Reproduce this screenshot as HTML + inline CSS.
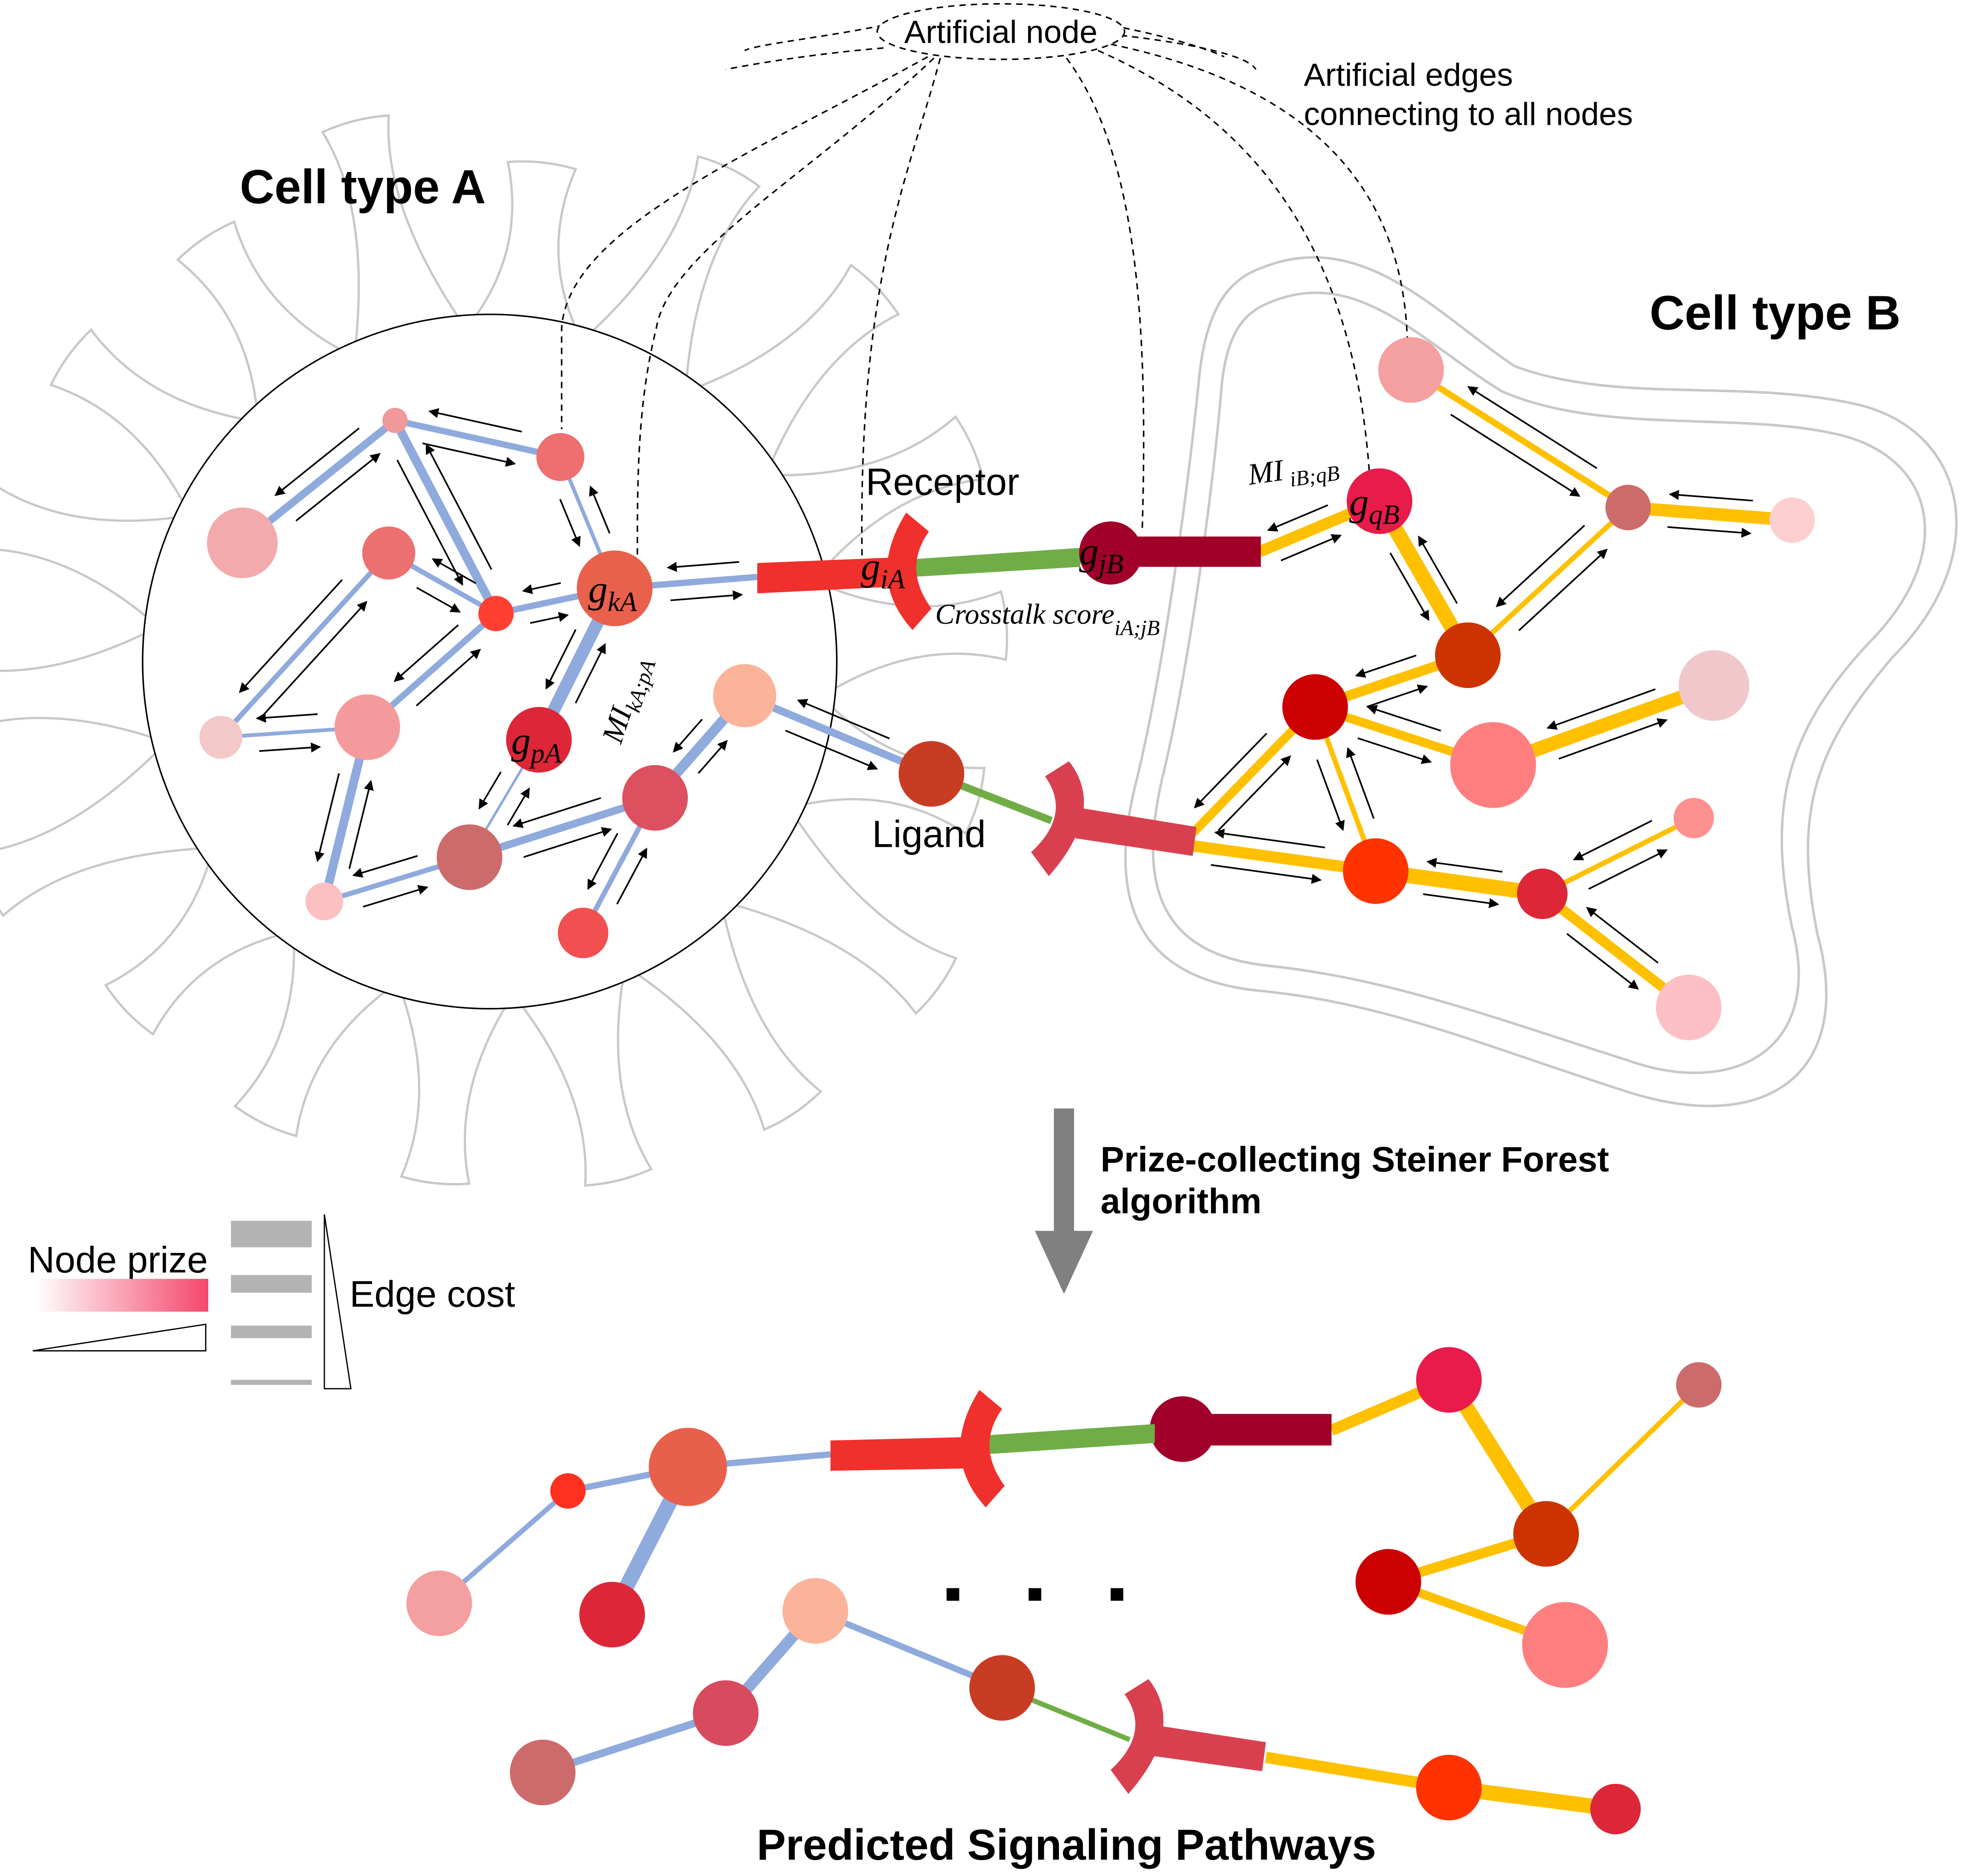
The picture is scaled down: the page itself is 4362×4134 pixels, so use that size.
<!DOCTYPE html>
<html><head><meta charset="utf-8">
<style>
html,body{margin:0;padding:0;background:#fff;}
svg{display:block;}
text{font-family:"Liberation Sans",sans-serif;}
text.it{font-family:"Liberation Serif",serif;font-style:italic;}
</style></head>
<body>
<svg id="s" xmlns="http://www.w3.org/2000/svg" width="4362" height="4134" viewBox="0 0 1568 1486">
<defs>
<marker id="ah" markerWidth="8" markerHeight="8" refX="7" refY="4" orient="auto" markerUnits="userSpaceOnUse">
<path d="M0,0 L8,4 L0,8 z" fill="#000"/></marker>
<linearGradient id="pg" x1="0" x2="1"><stop offset="0" stop-color="#fff"/><stop offset="1" stop-color="#f4476b"/></linearGradient>
</defs>
<g id="petals"></g>
<circle cx="388" cy="524" r="275" fill="#fff" stroke="#000" stroke-width="1.2"/>
<!-- Cell B outline -->
<path d="M1000,212 C1080,180 1140,250 1200,290 C1280,320 1380,300 1470,320 C1560,340 1580,440 1500,520 C1440,590 1420,640 1440,740 C1470,850 1400,900 1290,865 C1180,830 1100,795 1000,785 C890,775 880,700 900,620 C920,540 940,400 950,300 C955,250 970,222 1000,212 Z" fill="none" stroke="#c8c8c8" stroke-width="2"/>
<path d="M1005,240 C1075,210 1125,270 1190,310 C1270,345 1380,325 1460,345 C1535,365 1550,440 1480,510 C1415,580 1400,640 1420,735 C1445,830 1375,870 1290,840 C1180,805 1100,775 1005,765 C910,755 905,690 920,620 C940,540 960,400 968,305 C972,265 985,248 1005,240 Z" fill="none" stroke="#c8c8c8" stroke-width="2"/>
<g id="edges"></g>
<g id="arrows"></g>
<g id="dash" fill="none" stroke="#000" stroke-width="1.2" stroke-dasharray="5,4"></g>
<ellipse cx="793" cy="25" rx="98" ry="22" fill="#fff" stroke="#000" stroke-width="1.2" stroke-dasharray="5,4"/>
<text x="793" y="34" font-size="25.5" text-anchor="middle">Artificial node</text>
<text x="1033" y="68" font-size="25.5">Artificial edges</text>
<text x="1033" y="99" font-size="25.5">connecting to all nodes</text>
<text x="190" y="161" font-size="38" font-weight="bold">Cell type A</text>
<text x="1307" y="261" font-size="38.5" font-weight="bold">Cell type B</text>
<text x="686" y="392" font-size="30">Receptor</text>
<text x="691" y="671" font-size="30">Ligand</text>
<text x="741" y="494" font-size="23" class="it">Crosstalk score<tspan font-size="17" dy="9">iA;jB</tspan></text>
<text x="990" y="384" font-size="24" class="it" transform="rotate(-8 990 384)">MI<tspan font-size="17" dy="6"> iB;qB</tspan></text>
<text x="492" y="590" font-size="24" class="it" transform="rotate(-72 492 590)">MI<tspan font-size="17" dy="6">kA;pA</tspan></text>
<!-- receptors/ligands top -->
<polygon points="600,446 722,441 722,464 600,470" fill="#f0302c"/>
<polygon points="722,443 856,434 856,449 722,457" fill="#70ad47"/>
<rect x="900" y="425" width="99" height="24" fill="#a00028"/>
<path d="M718,406 Q685.5,457.5 723,499 L738,482 Q715,450.5 736,421 Z" fill="#f0302c"/>
<polygon points="856,640 948,655 945,678 852,664" fill="#d84050"/>
<path d="M847,603 Q877,641.5 831,694 L817,675 Q849.5,645 828,615 Z" fill="#d84050"/>
<g id="nodes"></g>
<g id="labels"></g>
<!-- bottom receptors -->
<polygon points="658,1141 780,1138 780,1163 658,1165" fill="#f0302c"/>
<polygon points="780,1137 915,1128 915,1143 780,1152" fill="#70ad47"/>
<rect x="957" y="1120" width="98" height="25" fill="#a00028"/>
<g transform="translate(58,695)"><path d="M718,406 Q685.5,457.5 723,499 L738,482 Q715,450.5 736,421 Z" fill="#f0302c"/></g>
<polygon points="918,1367 1003,1380 1000,1403 914,1391" fill="#d84050"/>
<g transform="translate(63,727)"><path d="M847,603 Q877,641.5 831,694 L817,675 Q849.5,645 828,615 Z" fill="#d84050"/></g>
<!-- Big arrow -->
<rect x="835" y="878" width="16" height="100" fill="#808080"/>
<path d="M820,975 L866,975 L843,1025 Z" fill="#808080"/>
<text x="872" y="928" font-size="28" font-weight="bold">Prize-collecting Steiner Forest</text>
<text x="872" y="961" font-size="28" font-weight="bold">algorithm</text>
<!-- legend -->
<text x="22" y="1008" font-size="29.5">Node prize</text>
<rect x="28" y="1013" width="137" height="26" fill="url(#pg)"/>
<path d="M26,1070 L163,1049 L163,1070 Z" fill="none" stroke="#000" stroke-width="1"/>
<rect x="183" y="967" width="64" height="21" fill="#b3b3b3"/>
<rect x="183" y="1010" width="64" height="14" fill="#b3b3b3"/>
<rect x="183" y="1050" width="64" height="10" fill="#b3b3b3"/>
<rect x="183" y="1093" width="64" height="4" fill="#b3b3b3"/>
<path d="M257,962 L278,1100 L257,1100 Z" fill="none" stroke="#000" stroke-width="1"/>
<text x="277" y="1035" font-size="29.5">Edge cost</text>
<rect x="750" y="1258" width="10" height="10" fill="#000"/>
<rect x="815" y="1258" width="10" height="10" fill="#000"/>
<rect x="880" y="1258" width="10" height="10" fill="#000"/>
<text x="845" y="1473" font-size="34.5" font-weight="bold" text-anchor="middle">Predicted Signaling Pathways</text>
</svg>
<script>
const NS="http://www.w3.org/2000/svg";
function el(p,t,a){const e=document.createElementNS(NS,t);for(const k in a)e.setAttribute(k,a[k]);document.getElementById(p).appendChild(e);return e;}
// petals
const cx=388,cy=524;
const n=18;
for(let i=0;i<n;i++){const d=-90+i*360/n+6;const a=d*Math.PI/180;const R=395+((i*37)%45);
 const px=Math.cos(a),py=Math.sin(a),qx=-py,qy=px;
 const P=(r,w)=>(cx+px*r+qx*w).toFixed(1)+","+(cy+py*r+qy*w).toFixed(1);
 const r0=262;
 el("petals","path",{d:`M${P(r0,-45)} Q${P(R-70,-5)} ${P(R,-27)} Q${P(R+5,0)} ${P(R,27)} Q${P(R-70,5)} ${P(r0,45)} Z`,fill:"#fff",stroke:"#c8c8c8","stroke-width":1.8});
}
const N={
a1:[313,333,10,"#f0989a"],a2:[444,362,19,"#ed6f70"],a3:[192,430,28,"#f2aaac"],a4:[308,438,21,"#ed7070"],a5:[393,486,14,"#ff4030"],
kA:[487,466,30,"#e9604c"],a6:[175,584,17,"#f2c8c8"],a7:[291,576,26,"#f49a9c"],pA:[427,586,26,"#dd2638"],a8:[590,551,25,"#fbb39a"],
a9:[519,632,26,"#dc5060"],a10:[372,679,26,"#cc6b6b"],a11:[257,714,15,"#fcc0c0"],a12:[462,739,20,"#f05050"],lg:[738,613,26,"#c83c24"],
jB:[880,438,25,"#a0002a"],
b1:[1118,293,26,"#f4a0a0"],b2:[1290,402,18,"#cc6b6b"],b3:[1420,412,18,"#fdd0d0"],qB:[1093,397,26,"#e81b4b"],b4:[1163,519,26,"#cc3300"],
b5:[1042,560,26,"#cc0000"],b6:[1358,543,28,"#f0c8cc"],b7:[1183,606,34,"#ff7f80"],b8:[1342,648,16,"#ff9090"],b9:[1090,690,26,"#ff3300"],
b10:[1222,708,20,"#dd2638"],b11:[1338,798,26,"#fcc0c4"],
c1:[348,1270,26,"#f4a0a0"],c2:[450,1181,14,"#ff3020"],c3:[545,1162,31,"#e8604c"],c4:[485,1279,26,"#dd2638"],c5:[937,1132,26,"#a0002a"],
c6:[1148,1093,26,"#e81b4b"],c7:[1346,1097,18,"#cc6b6b"],c8:[1225,1215,26,"#cc3300"],c9:[1100,1253,26,"#cc0000"],c10:[1240,1303,34,"#ff7f80"],
d1:[646,1276,26,"#fbb39a"],d2:[575,1357,26,"#d84b5e"],d3:[430,1404,26,"#cc6b6b"],d4:[794,1337,26,"#c83c24"],d5:[1148,1416,26,"#ff3300"],d6:[1280,1433,20,"#dd2638"]};
const BL="#8faadc",YL="#ffc000",GR="#70ad47";
const E=[
["a1","a3",6,BL,1],["a1","a2",5,BL,1],["a1","a5",7,BL,1],["a2","kA",3,BL,1],["a4","a5",4,BL,1],["a5","kA",5,BL,1],["a5","a7",5,BL,1],
["a4","a6",4,BL,1],["a6","a7",3,BL,1],["a7","a11",7,BL,1],["a11","a10",4,BL,1],["kA","pA",10,BL,1],["pA","a10",2,BL,1],["a10","a9",6,BL,1],
["a9","a8",8,BL,1],["a9","a12",4,BL,1],["a8","lg",6,BL,1],["kA",[600,457],5,BL,1],
["lg",[833,650],6,GR,0],
[[998,437],"qB",9,YL,1],["qB","b4",12,YL,1],["b1","b2",5,YL,1],["b2","b3",10,YL,1],["b2","b4",4,YL,1],["b4","b5",8,YL,1],
["b5","b7",7,YL,1],["b7","b6",11,YL,1],["b5",[945,660],7,YL,1],["b5","b9",4,YL,1],[[945,670],"b9",9,YL,1],["b9","b10",12,YL,1],
["b10","b8",4,YL,1],["b10","b11",8,YL,1],
["c1","c2",4,BL,0],["c2","c3",5,BL,0],["c3","c4",12,BL,0],["c3",[658,1152],5,BL,0],
[[1055,1133],"c6",9,YL,0],["c6","c8",12,YL,0],["c8","c7",4,YL,0],["c8","c9",8,YL,0],["c9","c10",7,YL,0],
["d3","d2",6,BL,0],["d2","d1",9,BL,0],["d1","d4",5,BL,0],["d4",[895,1378],4,GR,0],[[1003,1392],"d5",9,YL,0],["d5","d6",12,YL,0]];
const pt=p=>typeof p==="string"?N[p]:p;
for(const [a,b,w,c,ar] of E){const A=pt(a),B=pt(b);if(w>0)el("edges","line",{x1:A[0],y1:A[1],x2:B[0],y2:B[1],stroke:c,"stroke-width":w});
 if(ar){const dx=B[0]-A[0],dy=B[1]-A[1],L=Math.hypot(dx,dy),ux=dx/L,uy=dy/L,nx=-uy,ny=ux;
  const r1=(A[2]||0)+8,r2=(B[2]||0)+8,s=r1+(L-r1-r2)*0.08,e=L-r2-(L-r1-r2)*0.08,o=13;
  if(e-s>20){
  el("arrows","line",{x1:A[0]+ux*s+nx*o,y1:A[1]+uy*s+ny*o,x2:A[0]+ux*e+nx*o,y2:A[1]+uy*e+ny*o,stroke:"#000","stroke-width":1.3,"marker-end":"url(#ah)"});
  el("arrows","line",{x1:A[0]+ux*e-nx*o,y1:A[1]+uy*e-ny*o,x2:A[0]+ux*s-nx*o,y2:A[1]+uy*s-ny*o,stroke:"#000","stroke-width":1.3,"marker-end":"url(#ah)"});}
 }}
for(const k in N){const [x,y,r,c]=N[k];el("nodes","circle",{cx:x,cy:y,r:r,fill:c});}
// labels
const lab=[[466,477,"kA"],[405,597,"pA"],[855,447,"jB"],[1069,408,"qB"],[682,459,"iA"]];
for(const l of lab){const t=el("labels","text",{x:l[0],y:l[1],"class":"it","font-size":"31"});t.textContent="g";const s=document.createElementNS(NS,"tspan");s.setAttribute("font-size","22");s.setAttribute("dy","7");s.textContent=l[2];t.appendChild(s);}
// dashed curves
const D=["M735,45 C600,120 450,180 445,260 L445,340","M740,46 C640,140 530,200 520,260 C505,320 505,380 505,440","M745,46 C720,140 680,220 683,440",
"M845,46 C900,120 910,250 905,420","M870,40 C960,80 1070,160 1085,375","M880,35 C1000,60 1110,120 1115,268",
"M700,38 C650,42 600,50 575,55","M888,28 C950,35 990,45 995,55","M700,20 C650,30 600,35 590,40","M890,22 C930,30 960,40 970,45"];
for(const d of D)el("dash","path",{d:d});
</script>
</body></html>
